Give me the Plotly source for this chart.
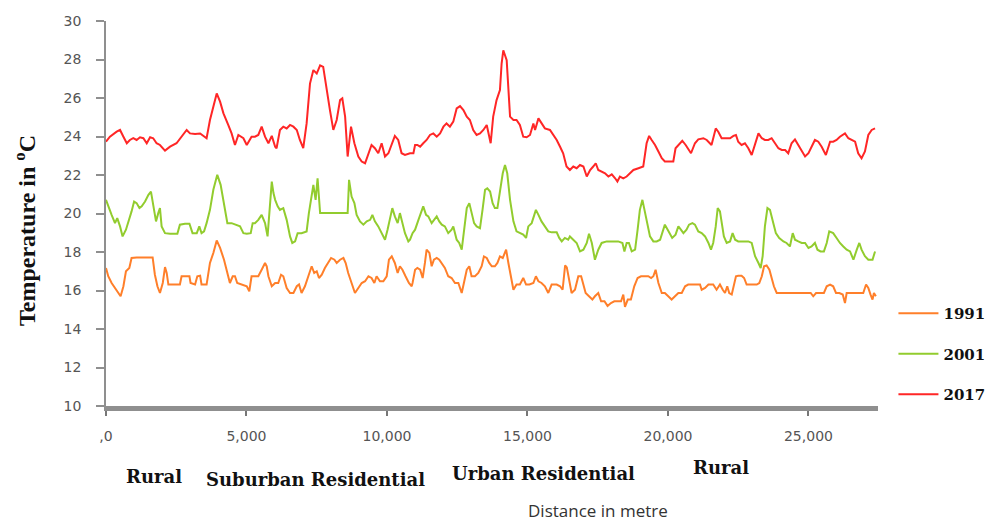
import plotly.graph_objects as go

# Surface temperature profile along the transect, three survey years
distance_1991 = [0, 80, 200, 320, 440, 520, 620, 710, 830, 910, 1090, 1330, 1660, 1740, 1830, 1920, 2020, 2100, 2160, 2220,
                 2400, 2630, 2690, 2970, 3010, 3170, 3250, 3350, 3400, 3580, 3700, 3820, 3940, 4060, 4200, 4290, 4410, 4510,
                 4590, 4670, 4830, 5010, 5100, 5180, 5300, 5420, 5540, 5660, 5720, 5780, 5900, 6020, 6130, 6230, 6310, 6430,
                 6550, 6670, 6790, 6870, 6960, 7080, 7200, 7320, 7410, 7500, 7580, 7680, 7790, 7910, 8010, 8130, 8210, 8330,
                 8450, 8530, 8620, 8740, 8860, 8980, 9100, 9220, 9340, 9450, 9550, 9630, 9750, 9870, 9990, 10070, 10170, 10280,
                 10380, 10460, 10550, 10660, 10780, 10880, 10910, 11000, 11080, 11180, 11270, 11350, 11410, 11510, 11590, 11670,
                 11770, 11860, 11950, 12060, 12180, 12300, 12420, 12540, 12660, 12740, 12840, 12930, 13010, 13130, 13250, 13370,
                 13450, 13550, 13640, 13730, 13840, 13930, 14020, 14120, 14240, 14320, 14400, 14500, 14610, 14730, 14850, 14950,
                 15070, 15210, 15300, 15390, 15500, 15620, 15740, 15860, 16040, 16160, 16250, 16340, 16400, 16480, 16570, 16690,
                 16810, 16910, 16990, 17070, 17190, 17310, 17400, 17520, 17620, 17740, 17850, 17970, 18090, 18210, 18330, 18410,
                 18470, 18570, 18680, 18800, 18920, 19040, 19180, 19300, 19400, 19480, 19560, 19660, 19780, 19890, 20010, 20130,
                 20250, 20370, 20490, 20610, 20720, 20960, 21140, 21200, 21320, 21440, 21610, 21730, 21850, 21950, 22030, 22110,
                 22180, 22270, 22350, 22420, 22500, 22620, 22710, 22800, 22920, 23040, 23160, 23250, 23340, 23420, 23510, 23610,
                 23690, 23770, 23870, 24050, 24220, 24460, 24700, 24940, 25080, 25170, 25270, 25410, 25550, 25650, 25770, 25880,
                 25980, 26100, 26220, 26300, 26360, 26480, 26600, 26770, 26950, 27050, 27130, 27210, 27280, 27330, 27400]
temp_1991 = [17.17, 16.74, 16.39, 16.13, 15.87, 15.7, 16.22, 17.0, 17.17, 17.69, 17.72, 17.72, 17.72, 16.82, 16.22, 15.87, 16.39, 17.22, 16.91, 16.31,
             16.31, 16.31, 16.74, 16.74, 16.39, 16.31, 16.74, 16.77, 16.31, 16.31, 17.43, 17.95, 18.6, 18.21, 17.6, 17.08, 16.39, 16.74,
             16.74, 16.39, 16.31, 16.22, 15.96, 16.74, 16.74, 16.74, 17.08, 17.43, 17.26, 16.74, 16.22, 16.39, 16.39, 16.82, 16.74, 16.13,
             15.87, 15.87, 16.22, 16.31, 15.87, 16.22, 16.74, 17.26, 16.91, 17.0, 16.65, 16.82, 17.17, 17.43, 17.69, 17.6, 17.43, 17.6,
             17.69, 17.43, 16.91, 16.39, 15.87, 16.13, 16.39, 16.48, 16.74, 16.65, 16.39, 16.74, 16.48, 16.48, 16.74, 17.6, 17.77, 17.43,
             16.91, 17.26, 17.08, 16.74, 16.39, 16.22, 16.39, 17.08, 17.17, 17.08, 16.65, 17.43, 18.12, 17.95, 17.26, 17.6,
             17.69, 17.6, 17.43, 17.17, 16.74, 16.65, 16.39, 16.39, 15.87, 16.39, 17.08, 17.26, 16.74, 16.74, 16.91, 17.26,
             17.77, 17.69, 17.43, 17.26, 17.26, 17.43, 17.77, 17.69, 18.12, 17.43, 16.74, 16.04, 16.31, 16.31, 16.65, 16.31,
             16.31, 16.39, 16.74, 16.48, 16.39, 16.22, 15.87, 16.31, 16.31, 16.22, 16.04, 17.3, 17.2, 16.5, 15.87, 16.04,
             16.74, 16.74, 16.22, 15.87, 15.7, 15.53, 15.7, 15.87, 15.44, 15.44, 15.2, 15.35, 15.44, 15.44, 15.44, 15.79,
             15.15, 15.53, 15.53, 16.22, 16.65, 16.74, 16.74, 16.74, 16.65, 16.74, 17.08, 16.39, 15.87, 15.87, 15.7, 15.53,
             15.7, 15.87, 15.87, 16.22, 16.31, 16.31, 16.31, 16.04, 16.13, 16.31, 16.31, 16.04, 16.31, 16.04, 15.87, 16.22,
             15.87, 15.79, 16.22, 16.74, 16.77, 16.77, 16.65, 16.31, 16.31, 16.31, 16.31, 16.39, 16.74, 17.26, 17.3, 17.08,
             16.65, 16.22, 15.87, 15.87, 15.87, 15.87, 15.87, 15.87, 15.87, 15.7, 15.87, 15.87, 15.87, 16.22, 16.31, 16.22,
             15.87, 15.87, 15.79, 15.35, 15.87, 15.87, 15.87, 15.87, 15.87, 16.31, 16.13, 15.79, 15.53, 15.87, 15.7]

distance_2001 = [0, 80, 200, 320, 400, 500, 590, 710, 830, 910, 1000, 1090, 1190, 1270, 1390, 1510, 1600, 1680, 1780, 1860,
                 1920, 1980, 2100, 2280, 2540, 2630, 2810, 2970, 3080, 3230, 3320, 3400, 3490, 3580, 3700, 3820, 3960, 4080,
                 4200, 4320, 4470, 4650, 4770, 4890, 5010, 5150, 5220, 5300, 5420, 5540, 5660, 5750, 5840, 5900, 5960, 6020,
                 6110, 6190, 6310, 6430, 6550, 6630, 6730, 6820, 6960, 7140, 7220, 7320, 7380, 7460, 7530, 7620, 7850, 8150,
                 8390, 8600, 8650, 8740, 8840, 8920, 9040, 9160, 9280, 9400, 9480, 9570, 9690, 9810, 9930, 10020, 10110, 10190,
                 10280, 10380, 10460, 10550, 10640, 10760, 10820, 10910, 11000, 11120, 11230, 11290, 11390, 11470, 11590, 11710,
                 11770, 11860, 11950, 12060, 12180, 12300, 12360, 12480, 12570, 12660, 12740, 12840, 12930, 13010, 13100, 13190,
                 13310, 13400, 13490, 13570, 13670, 13760, 13840, 13930, 14020, 14120, 14200, 14280, 14380, 14500, 14610, 14730,
                 14850, 14950, 15030, 15150, 15230, 15300, 15390, 15500, 15620, 15740, 15860, 16040, 16130, 16220, 16330, 16450,
                 16510, 16630, 16750, 16870, 16990, 17110, 17190, 17290, 17400, 17520, 17640, 17820, 18060, 18230, 18380, 18450,
                 18530, 18610, 18710, 18830, 18920, 19000, 19090, 19180, 19280, 19360, 19480, 19600, 19720, 19800, 19890, 19990,
                 20070, 20150, 20270, 20370, 20460, 20550, 20660, 20750, 20870, 20960, 21080, 21200, 21320, 21440, 21530, 21610,
                 21700, 21770, 21850, 21910, 21990, 22090, 22210, 22300, 22390, 22500, 22680, 22860, 22980, 23100, 23220, 23300,
                 23370, 23450, 23540, 23630, 23750, 23840, 23960, 24110, 24220, 24340, 24440, 24520, 24640, 24760, 24880, 25000,
                 25110, 25230, 25320, 25430, 25550, 25650, 25740, 25880, 26000, 26120, 26240, 26360, 26480, 26600, 26720, 26810,
                 26890, 27010, 27130, 27280, 27370]
temp_2001 = [20.71, 20.37, 19.93, 19.5, 19.76, 19.33, 18.81, 19.16, 19.67, 20.11, 20.62, 20.54, 20.28, 20.37, 20.62, 20.97, 21.14, 20.54, 19.59, 20.02,
             20.28, 19.33, 18.98, 18.95, 18.95, 19.42, 19.47, 19.47, 18.98, 18.98, 19.33, 18.98, 19.07, 19.5, 20.19, 21.23, 22.01, 21.49,
             20.37, 19.5, 19.5, 19.42, 19.33, 18.98, 18.95, 18.98, 19.5, 19.5, 19.67, 19.93, 19.5, 18.81, 20.37, 21.66, 21.06, 20.71,
             20.37, 20.19, 20.28, 19.67, 18.81, 18.47, 18.55, 18.98, 18.98, 19.07, 20.02, 21.06, 21.49, 20.71, 21.83, 20.02, 20.02, 20.02,
             20.02, 20.02, 21.75, 20.88, 20.54, 19.93, 19.59, 19.42, 19.59, 19.67, 19.93, 19.59, 19.33, 18.98, 18.64, 19.16, 19.85, 20.28,
             19.85, 19.5, 20.02, 19.5, 18.98, 18.55, 18.64, 18.98, 19.16, 19.67, 20.11, 20.37, 19.93, 19.85, 19.5, 19.76,
             19.85, 19.59, 19.42, 19.33, 18.98, 19.16, 19.33, 18.64, 18.47, 18.12, 19.16, 20.28, 20.54, 20.02, 19.5, 19.33,
             19.24, 20.19, 21.23, 21.31, 21.14, 20.54, 20.28, 20.28, 21.06, 22.09, 22.52, 22.09, 20.71, 19.59, 19.07, 18.98,
             18.9, 18.73, 19.33, 19.5, 19.85, 20.19, 19.93, 19.59, 19.33, 19.07, 19.02, 19.02, 18.73, 18.55, 18.73, 18.64,
             18.81, 18.64, 18.47, 18.03, 18.12, 18.47, 18.95, 18.47, 17.6, 18.12, 18.47, 18.55, 18.55, 18.55, 18.47, 18.03,
             18.47, 18.47, 18.03, 18.12, 19.16, 20.19, 20.71, 20.11, 19.33, 18.81, 18.55, 18.55, 18.64, 19.07, 19.42, 19.16,
             18.98, 18.73, 18.9, 19.33, 19.16, 18.98, 19.16, 19.42, 19.5, 19.42, 19.07, 18.98, 18.81, 18.47, 18.12, 18.47,
             19.33, 20.28, 20.11, 19.5, 18.81, 18.47, 18.55, 18.98, 18.64, 18.55, 18.55, 18.55, 18.47, 17.78, 17.43, 17.17,
             17.78, 19.33, 20.28, 20.19, 19.5, 18.98, 18.73, 18.55, 18.47, 18.29, 18.98, 18.64, 18.55, 18.47, 18.47, 18.21,
             18.29, 18.47, 18.12, 18.03, 18.03, 18.47, 19.07, 18.98, 18.73, 18.47, 18.29, 18.12, 18.03, 17.6, 18.12, 18.47,
             18.12, 17.78, 17.6, 17.6, 18.03]

distance_2017 = [0, 140, 380, 500, 620, 740, 850, 970, 1090, 1210, 1330, 1450, 1570, 1680, 1800, 1920, 2100, 2280, 2510, 2690,
                 2870, 2990, 3170, 3350, 3460, 3580, 3700, 3820, 3940, 4060, 4180, 4350, 4470, 4590, 4710, 4890, 5010, 5180,
                 5300, 5420, 5540, 5660, 5780, 5900, 6020, 6070, 6190, 6310, 6430, 6550, 6670, 6790, 6900, 7020, 7140, 7260,
                 7380, 7500, 7620, 7730, 7850, 7970, 8090, 8210, 8330, 8410, 8510, 8600, 8720, 8840, 8980, 9100, 9220, 9340,
                 9450, 9570, 9690, 9810, 9930, 10050, 10170, 10280, 10400, 10520, 10640, 10820, 10940, 11000, 11080, 11180,
                 11290, 11410, 11530, 11650, 11770, 11890, 12010, 12120, 12240, 12360, 12480, 12600, 12720, 12840, 12950, 13070,
                 13190, 13310, 13430, 13550, 13690, 13780, 13900, 14020, 14080, 14140, 14260, 14380, 14500, 14610, 14730, 14850,
                 14970, 15090, 15210, 15270, 15390, 15500, 15620, 15800, 15920, 16040, 16160, 16270, 16390, 16510, 16630, 16750,
                 16870, 16990, 17110, 17230, 17340, 17430, 17520, 17640, 17760, 17880, 18000, 18120, 18200, 18290, 18410, 18530,
                 18650, 18770, 18950, 19120, 19240, 19330, 19420, 19540, 19660, 19780, 19890, 20070, 20190, 20270, 20430, 20510,
                 20630, 20820, 20960, 21080, 21260, 21380, 21550, 21700, 21790, 21910, 22090, 22210, 22330, 22420, 22500, 22620,
                 22740, 22860, 22980, 23100, 23220, 23340, 23450, 23570, 23690, 23810, 23930, 24050, 24170, 24280, 24400, 24520,
                 24640, 24760, 24880, 25000, 25110, 25230, 25350, 25470, 25620, 25770, 25880, 26000, 26120, 26300, 26420, 26540,
                 26660, 26770, 26890, 27010, 27070, 27130, 27250, 27370]
temp_2017 = [23.73, 23.99, 24.25, 24.34, 23.99, 23.65, 23.82, 23.91, 23.82, 23.96, 23.91, 23.65, 23.96, 23.91, 23.65, 23.56, 23.27, 23.47, 23.65, 23.99,
             24.34, 24.16, 24.13, 24.16, 24.03, 23.91, 24.86, 25.63, 26.24, 25.81, 25.2, 24.6, 24.16, 23.56, 24.08, 23.91, 23.56, 23.99,
             23.99, 24.08, 24.51, 23.99, 23.65, 24.03, 23.47, 23.39, 24.34, 24.51, 24.42, 24.6, 24.51, 24.34, 23.82, 23.39, 24.68, 26.75,
             27.45, 27.27, 27.7, 27.62, 26.41, 25.37, 24.34, 24.86, 25.89, 25.98, 25.03, 22.96, 24.51, 23.65, 22.96, 22.7, 22.61, 23.13,
             23.56, 23.39, 23.13, 23.65, 22.96, 23.13, 23.65, 24.03, 23.82, 23.13, 23.04, 23.13, 23.13, 23.56, 23.56, 23.47,
             23.65, 23.82, 24.08, 24.16, 23.99, 24.16, 24.51, 24.68, 24.51, 24.77, 25.46, 25.58, 25.37, 25.03, 24.86, 24.34,
             24.08, 24.16, 24.34, 24.6, 23.65, 25.03, 25.89, 26.41, 27.79, 28.48, 27.96, 25.03, 24.86, 24.86, 24.6, 23.99,
             23.96, 24.08, 24.68, 24.34, 24.94, 24.68, 24.42, 24.34, 24.08, 23.82, 23.47, 23.13, 22.44, 22.26, 22.44, 22.35,
             22.52, 22.44, 21.92, 22.26, 22.44, 22.61, 22.26, 22.18, 22.09, 21.92, 22.03, 21.83, 21.66, 21.92, 21.83, 21.92,
             22.09, 22.26, 22.35, 22.44, 23.65, 24.03, 23.82, 23.56, 23.22, 22.87, 22.7, 22.7, 22.7, 23.39, 23.65, 23.78,
             23.56, 23.13, 23.65, 23.85, 23.91, 23.82, 23.56, 24.42, 24.25, 23.91, 23.91, 23.91, 24.03, 24.08, 23.73, 23.56,
             23.65, 23.39, 23.04, 23.65, 24.16, 23.91, 23.82, 23.82, 23.91, 23.65, 23.39, 23.3, 23.3, 23.13, 23.65, 23.85,
             23.56, 23.22, 22.96, 23.13, 23.47, 23.82, 23.73, 23.47, 23.04, 23.73, 23.73, 23.82, 23.99, 24.16, 23.91, 23.82,
             23.73, 23.13, 22.87, 23.22, 23.65, 24.08, 24.34, 24.42]

years = ["1991", "2001", "2017"]
colors = ["#FF7F2A", "#92CC2E", "#FF2626"]

x_tickvals = [0, 5000, 10000, 15000, 20000, 25000]
x_ticktext = [",0", "5,000", "10,000", "15,000", "20,000", "25,000"]
y_tickvals = [10, 12, 14, 16, 18, 20, 22, 24, 26, 28, 30]

zone_labels = ["Rural", "Suburban Residential", "Urban Residential", "Rural"]
zone_x = [0.062, 0.272, 0.567, 0.797]
zone_y = [-0.184, -0.192, -0.176, -0.161]

serif = "Liberation Serif"
wide_serif = "DejaVu Serif"
tick_font = dict(family="DejaVu Sans", size=14, color="#555555")

fig = go.Figure()
for year, xs, ys, col in zip(years,
                             [distance_1991, distance_2001, distance_2017],
                             [temp_1991, temp_2001, temp_2017],
                             colors):
    fig.add_trace(go.Scatter(
        x=xs, y=ys, mode="lines", name=year, legendgroup=year,
        line=dict(color=col, width=2),
    ))

fig.update_layout(
    width=999, height=521,
    margin=dict(l=106, r=121, t=21, b=115, autoexpand=False),
    paper_bgcolor="white", plot_bgcolor="white",
    showlegend=True,
    legend=dict(
        x=1.02, xanchor="left", y=0.283, yanchor="top",
        font=dict(family=wide_serif, size=15, color="#111111", weight="bold"),
        tracegroupgap=18, itemwidth=40, bgcolor="rgba(0,0,0,0)",
    ),
    xaxis=dict(
        range=[0, 27475], tickvals=x_tickvals, ticktext=x_ticktext,
        showgrid=False, zeroline=False,
        showline=True, linecolor="#8f8f8f", linewidth=5,
        ticks="outside", ticklen=5, tickcolor="#777777", tickwidth=1.5,
        ticklabelstandoff=8,
        tickfont=tick_font,
    ),
    yaxis=dict(
        range=[10, 30], tickvals=y_tickvals,
        showgrid=False, zeroline=False,
        showline=True, linecolor="#8f8f8f", linewidth=1.5,
        ticks="outside", ticklen=8, tickcolor="#8f8f8f", tickwidth=1.5,
        ticklabelstandoff=12,
        tickfont=tick_font,
    ),
)

annotations = [
    dict(text="Temperature in <sup>o</sup>C", x=-0.105, y=0.457, xref="paper", yref="paper",
         textangle=-90, showarrow=False, xanchor="center", yanchor="middle",
         font=dict(family=serif, size=24, color="#111111", weight="bold")),
    dict(text="Distance in metre", x=0.637, y=-0.2725, xref="paper", yref="paper",
         showarrow=False, xanchor="center", yanchor="middle",
         font=dict(family="Open Sans", size=17, color="#333333")),
]
for label, zx, zy in zip(zone_labels, zone_x, zone_y):
    annotations.append(dict(text=label, x=zx, y=zy, xref="paper", yref="paper",
                            showarrow=False, xanchor="center", yanchor="middle",
                            font=dict(family=wide_serif, size=18, color="#111111", weight="bold")))
fig.update_layout(annotations=annotations)

fig.write_html("out.html")
